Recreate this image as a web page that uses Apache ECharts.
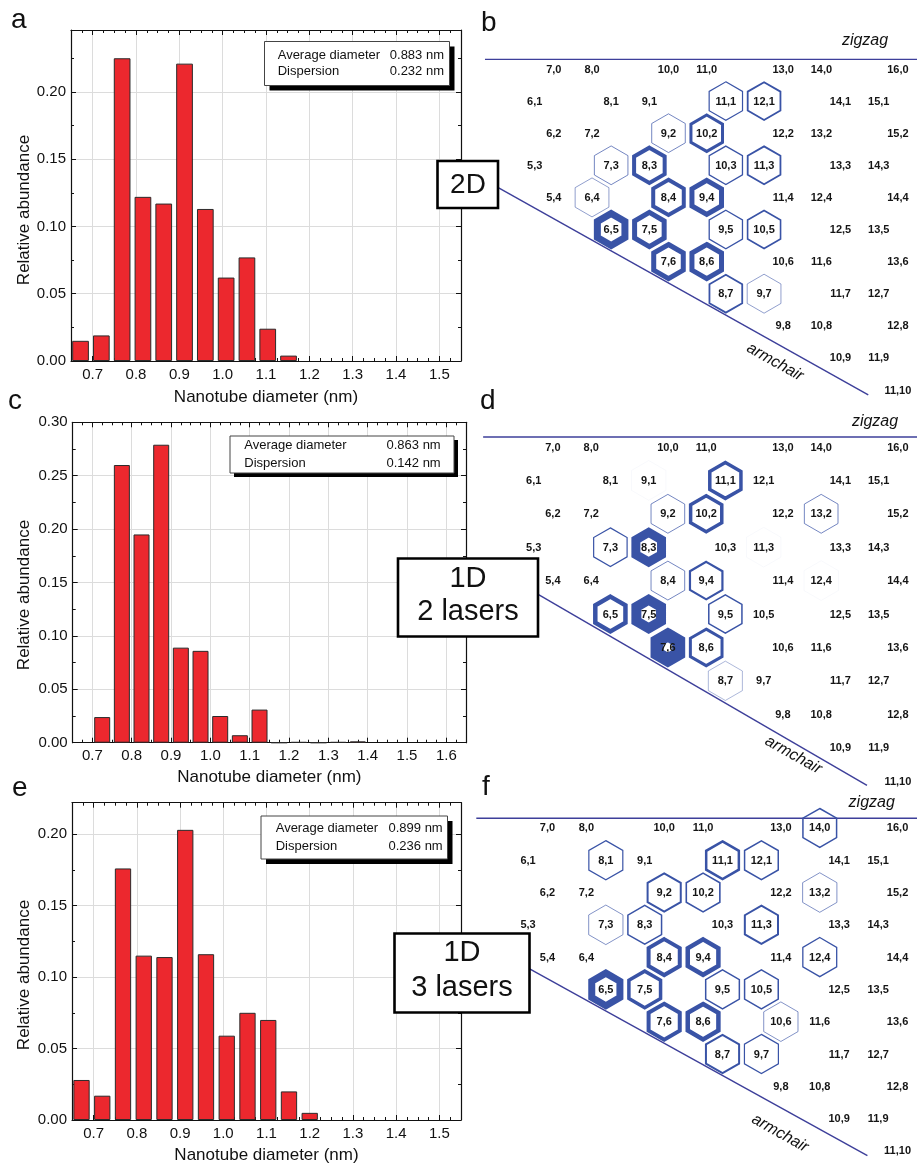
<!DOCTYPE html>
<html><head><meta charset="utf-8">
<script src="https://cdn.jsdelivr.net/npm/echarts@6/dist/echarts.min.js"></script>
<style>html,body{margin:0;padding:0;background:#fff}#c{width:917px;height:1167px}</style>
</head><body><div id="c"></div>
<script>
const FONT = '"Liberation Sans", Arial, Helvetica, sans-serif';

// ---------- Histogram data (nanotube diameter, nm -> relative abundance) ----------
const diamA  = [0.672,0.720,0.768,0.816,0.864,0.912,0.960,1.008,1.056,1.104,1.152];
const abundA = [0.015,0.019,0.225,0.122,0.117,0.221,0.113,0.062,0.077,0.024,0.004];

const diamC  = [0.725,0.775,0.825,0.875,0.925,0.975,1.025,1.075,1.125,1.175,1.225,1.275,1.325,1.375];
const abundC = [0.024,0.260,0.195,0.279,0.089,0.086,0.025,0.007,0.031,0.000,0.0006,0.000,0.0006,0.0012];

const diamE  = [0.672,0.720,0.768,0.816,0.864,0.912,0.960,1.008,1.056,1.104,1.152,1.200];
const abundE = [0.028,0.017,0.176,0.115,0.114,0.203,0.116,0.059,0.075,0.070,0.020,0.005];

const statsA = ['0.883 nm', '0.232 nm'];
const statsC = ['0.863 nm', '0.142 nm'];
const statsE = ['0.899 nm', '0.236 nm'];
const statNames = ['Average diameter', 'Dispersion'];

// ---------- Chirality map (n,m) labels ----------
const chiralities = [
 '7,0','8,0','10,0','11,0','13,0','14,0','16,0',
 '6,1','8,1','9,1','11,1','12,1','14,1','15,1',
 '6,2','7,2','9,2','10,2','12,2','13,2','15,2',
 '5,3','7,3','8,3','10,3','11,3','13,3','14,3',
 '5,4','6,4','8,4','9,4','11,4','12,4','14,4',
 '6,5','7,5','9,5','10,5','12,5','13,5',
 '7,6','8,6','10,6','11,6','13,6',
 '8,7','9,7','11,7','12,7',
 '9,8','10,8','12,8',
 '10,9','11,9',
 '11,10'];

// Highlighted chiralities with outline weight (abundance encoding)
const hexB = [['11,1',1.2],['12,1',1.8],['9,2',1.0],['10,2',3],['7,3',1.0],['8,3',4],['10,3',1.3],['11,3',1.8],
  ['6,4',0.8],['8,4',4],['9,4',5],['6,5',7],['7,5',5],['9,5',1.3],['10,5',1.6],['7,6',5],['8,6',5],['8,7',1.8],['9,7',0.8]];
const hexD = [['11,1',3.5],['9,2',1.0],['10,2',3.5],['13,2',1.0],['7,3',1.2],['8,3',9],['8,4',1.0],['9,4',2.2],
  ['6,5',4.5],['7,5',10],['9,5',1.5],['7,6',13],['8,6',3],['8,7',0.6],['9,1',0.2],['11,3',0.2],['12,4',0.2]];
const hexF = [['14,0',1.5],['8,1',1.2],['11,1',2.5],['12,1',1.5],['9,2',2],['10,2',1.6],['13,2',0.9],['7,3',0.9],
  ['8,3',1.5],['11,3',2],['12,4',1.3],['8,4',4],['9,4',4.5],['6,5',7],['7,5',3.5],['9,5',1.5],['10,5',1.5],
  ['10,6',0.9],['7,6',4],['8,6',4.5],['8,7',2],['9,7',1.2]];

// Armchair (n,n) line spans and zigzag line span
const armchairSpan = {b:[3.69,10.15], d:[4.38,10.13], f:[4.33,10.15]};
const zigzagSpan = {b:[5.2,16.8], d:[5.18,16.8], f:[5.17,16.8]};
const zigzagRow = -0.3;

// ---------- layout ----------
const barGrids = [
  {left:71,   top:30,    width:390,   height:331,   xMax:1.55, yMax:0.246, showMaxY:false, bw:16.7, gap:28, yName:210},
  {left:72.7, top:422.3, width:393.3, height:320.4, xMax:1.65, yMax:0.30,  showMaxY:true,  bw:16,   gap:26, yName:595},
  {left:72,   top:802.7, width:389,   height:317.3, xMax:1.55, yMax:0.222, showMaxY:false, bw:16.3, gap:27, yName:975}
];
const barData = [[diamA,abundA],[diamC,abundC],[diamE,abundE]];
const mapGrids = [
  {left:439.1, top:36.9,  width:480,   height:369.15},
  {left:437.9, top:413.6, width:488,   height:384.1},
  {left:430.8, top:795.65,width:492.5, height:383.5}
];
const hexSets = [hexB, hexD, hexF];
const keys = ['b','d','f'];

const grids = [], xAxes = [], yAxes = [], series = [];
const tickCol = '#111';

barGrids.forEach((g,k) => {
  grids.push({left:g.left, top:g.top, width:g.width, height:g.height, containLabel:false});
  const xBase = {gridIndex:k, type:'value', min:0.65, max:g.xMax, minInterval:0.1, maxInterval:0.1,
    axisLine:{show:true, onZero:false, lineStyle:{color:tickCol, width:1.2}},
    axisTick:{show:true, inside:true, length:5, lineStyle:{color:tickCol, width:1}},
    minorTick:{show:true, splitNumber:4, length:3, lineStyle:{color:tickCol, width:1}}};
  xAxes.push(Object.assign({}, xBase, {position:'bottom',
    name:'Nanotube diameter (nm)', nameLocation:'middle', nameGap:g.gap,
    nameTextStyle:{fontSize:17, color:'#111', fontFamily:FONT},
    axisLabel:{show:true, fontSize:15, color:'#111', fontFamily:FONT, margin:6, showMinLabel:false, showMaxLabel:false,
      formatter:v=>v.toFixed(1)},
    splitLine:{show:true, lineStyle:{color:'#dcdcdc', width:1}}}));
  xAxes.push(Object.assign({}, xBase, {position:'top', axisLabel:{show:false}, splitLine:{show:false}}));
  const yBase = {gridIndex:k, type:'value', min:0, max:g.yMax, interval:0.05,
    axisLine:{show:true, onZero:false, lineStyle:{color:tickCol, width:1.2}},
    axisTick:{show:true, inside:true, length:5, lineStyle:{color:tickCol, width:1}},
    minorTick:{show:true, splitNumber:2, length:3, lineStyle:{color:tickCol, width:1}}};
  yAxes.push(Object.assign({}, yBase, {position:'left',
    axisLabel:{show:true, fontSize:15, color:'#111', fontFamily:FONT, margin:5, showMaxLabel:g.showMaxY,
      formatter:v=>v.toFixed(2)},
    splitLine:{show:true, lineStyle:{color:'#dcdcdc', width:1}}}));
  yAxes.push(Object.assign({}, yBase, {position:'right', axisLabel:{show:false}, splitLine:{show:false}}));
  const [dx, dy] = barData[k];
  series.push({type:'bar', xAxisIndex:2*k, yAxisIndex:2*k, barWidth:g.bw,
    data: dx.map((d,i)=>[d, dy[i]]),
    itemStyle:{color:'#ec282e', borderColor:'#2b2b2b', borderWidth:1}, silent:true, z:3});
});

function nm(lab){ const p = lab.split(',').map(Number); return [p[0] + p[1]/2, p[1]]; }

mapGrids.forEach((g,j) => {
  const gi = 3 + j, ai = 6 + j;
  grids.push({left:g.left, top:g.top, width:g.width, height:g.height, containLabel:false, show:false});
  xAxes.push({gridIndex:gi, type:'value', min:4, max:16.5, show:false});
  yAxes.push({gridIndex:gi, type:'value', min:-1, max:10.5, inverse:true, show:false});
  const hs = hexSets[j];
  series.push({type:'custom', coordinateSystem:'cartesian2d', xAxisIndex:ai, yAxisIndex:ai, clip:false, silent:true, z:3,
    data: hs.map(h => { const p = nm(h[0]); return [p[0], p[1], h[1]]; }),
    renderItem:(params, api) => {
      const c = api.coord([api.value(0), api.value(1)]);
      const step = api.size([1,0])[0];
      const apo = 0.452*step;
      const w = api.value(2);
      const R = (apo - w/2) * 2/Math.sqrt(3);
      const pts = [];
      for (let k=0;k<6;k++){ const a=(-90+60*k)*Math.PI/180; pts.push([c[0]+R*Math.cos(a), c[1]+R*Math.sin(a)]); }
      let col = '#3953a6';
      if (w < 0.5) col = 'rgba(57,83,166,0.18)';
      else if (w < 1.1) col = 'rgba(57,83,166,0.7)';
      return {type:'polygon', shape:{points:pts}, style:{fill:'rgba(255,255,255,0)', stroke:col, lineWidth:w, lineJoin:'miter', miterLimit:10}};
    }});
  series.push({type:'custom', coordinateSystem:'cartesian2d', xAxisIndex:ai, yAxisIndex:ai, clip:false, silent:true, z:5,
    data: chiralities.map(l => nm(l)),
    renderItem:(params, api) => {
      const c = api.coord([api.value(0), api.value(1)]);
      return {type:'text', x:c[0], y:c[1]+0.5, style:{text:chiralities[params.dataIndex], fill:'#151515',
        font:'bold 11px '+FONT, align:'center', verticalAlign:'middle'}};
    }});
  const key = keys[j];
  const as = armchairSpan[key];
  series.push({type:'line', xAxisIndex:ai, yAxisIndex:ai, clip:false, silent:true, symbol:'none', z:2,
    data: as.map(n => [1.5*n, n]), lineStyle:{color:'#3d3f9a', width:1.4}});
  const zs = zigzagSpan[key];
  series.push({type:'line', xAxisIndex:ai, yAxisIndex:ai, clip:false, silent:true, symbol:'none', z:2,
    data: zs.map(x => [x, zigzagRow]), lineStyle:{color:'#3d3f9a', width:1.4}});
});

// ---------- graphic annotations ----------
const gfx = [];
function txt(t, x, y, font, opts){ gfx.push(Object.assign({type:'text', x:x, y:y, z:100,
  style:Object.assign({text:t, fill:'#111', font:font, align:'center', verticalAlign:'middle'}, (opts||{}).style||{})}, (opts||{}).el||{})); }
// y-axis titles
barGrids.forEach(g => txt('Relative abundance', 24, g.yName, '17px '+FONT, {el:{rotation:Math.PI/2}}));
// panel letters
[['a',11,20.5],['b',481,23.5],['c',8,401],['d',480,401],['e',12,788],['f',482,787]].forEach(p =>
  txt(p[0], p[1], p[2], '28px '+FONT, {style:{align:'left'}}));
// zigzag / armchair
[[865,41],[875,421.7],[871.7,802.7]].forEach(p => txt('zigzag', p[0], p[1], 'italic 16px '+FONT));
[[775,362],[793.3,755],[780,1133.3]].forEach(p => txt('armchair', p[0], p[1], 'italic 16px '+FONT, {el:{rotation:-0.51}}));
// legend boxes
function legend(bx, by, bw, bh, off, y1, y2, lx, rx, vals){
  gfx.push({type:'rect', z:90, shape:{x:bx+off, y:by+off, width:bw, height:bh}, style:{fill:'#000'}});
  gfx.push({type:'rect', z:91, shape:{x:bx, y:by, width:bw, height:bh}, style:{fill:'#fff', stroke:'#444', lineWidth:1}});
  txt(statNames[0], lx, y1, '13px '+FONT, {style:{align:'left'}});
  txt(statNames[1], lx, y2, '13px '+FONT, {style:{align:'left'}});
  txt(vals[0], rx, y1, '13px '+FONT, {style:{align:'right'}});
  txt(vals[1], rx, y2, '13px '+FONT, {style:{align:'right'}});
}
legend(264.5, 41.5, 185, 44, 5, 55, 71.5, 277.7, 444, statsA);
legend(230, 436, 224, 37, 4, 445.8, 463.2, 244.3, 440.7, statsC);
legend(261, 816, 186.5, 43, 5, 828.5, 846, 275.7, 442.7, statsE);
// sample boxes
function box(x, y, w, h, lines, cx, ys, fs){
  gfx.push({type:'rect', z:95, shape:{x:x, y:y, width:w, height:h}, style:{fill:'#fff', stroke:'#000', lineWidth:2.6}});
  lines.forEach((l,i) => txt(l, cx, ys[i], fs+'px '+FONT));
}
box(437.5, 161, 60.5, 47, ['2D'], 468, [185], 28);
box(398, 558.5, 140, 78, ['1D','2 lasers'], 468, [579, 612], 29);
box(394.5, 933.5, 135, 79, ['1D','3 lasers'], 462, [953, 987.5], 29);

const chart = echarts.init(document.getElementById('c'), null, {renderer:'canvas'});
chart.setOption({
  animation:false, backgroundColor:'#fff',
  grid:grids, xAxis:xAxes, yAxis:yAxes, series:series, graphic:{elements:gfx}
});
</script></body></html>
